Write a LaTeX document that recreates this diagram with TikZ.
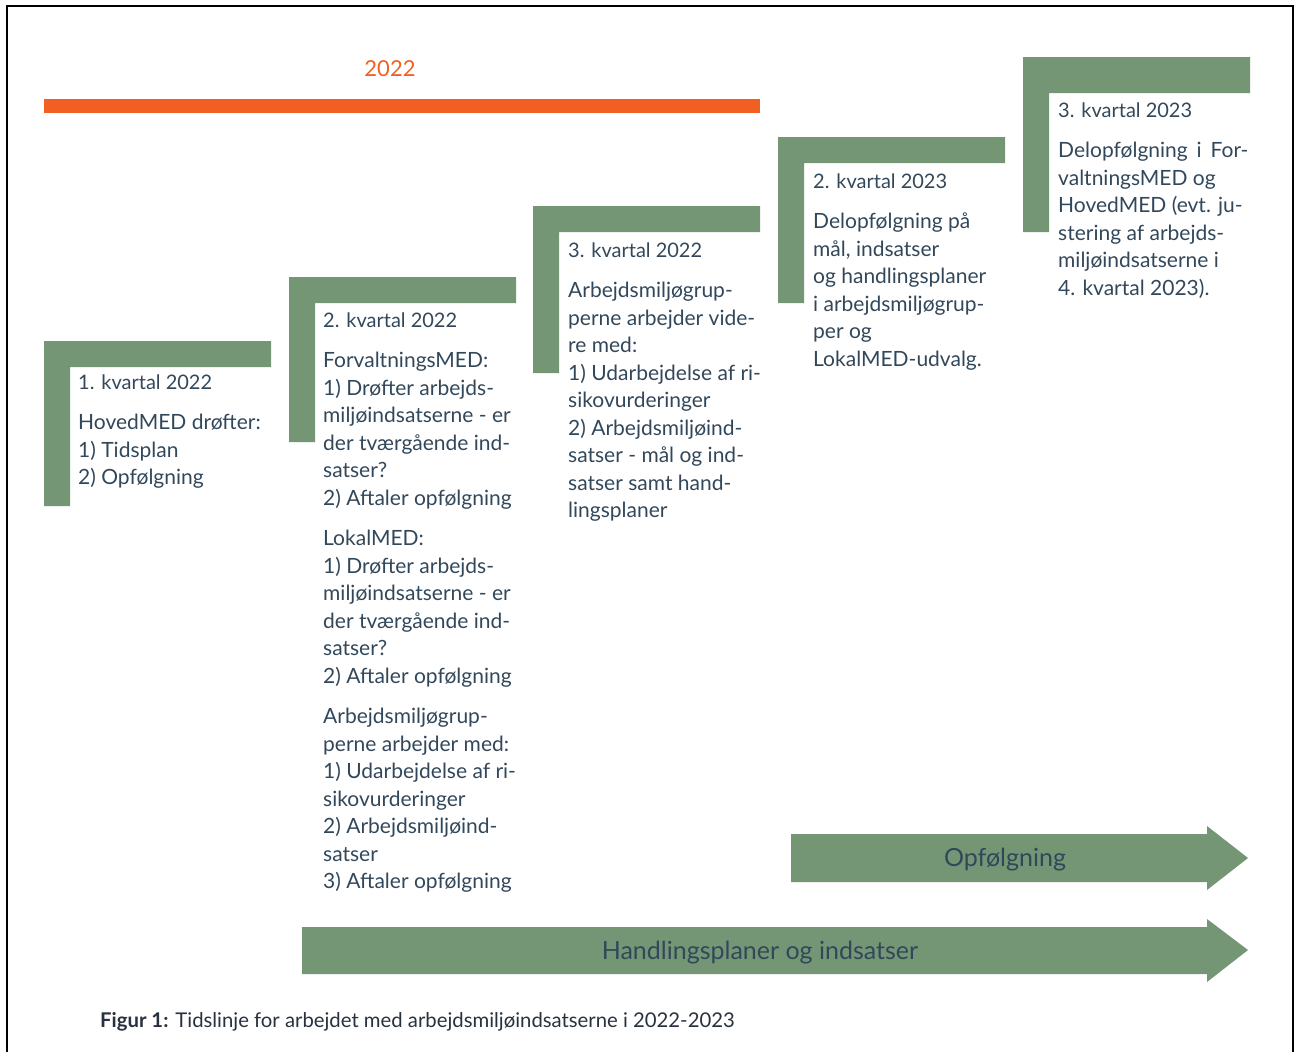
\documentclass[tikz,border=0pt]{standalone}
\usepackage{fontspec}
\setmainfont{Lato}
\definecolor{kvgreen}{RGB}{116,150,117}
\definecolor{kvorange}{RGB}{241,95,34}
\definecolor{kvtext}{RGB}{50,72,90}
\definecolor{kvcap}{RGB}{40,50,62}
\tikzset{
  hjoerne/.style={fill=kvgreen},
  overskrift/.style={anchor=base west, inner sep=0pt, text=kvtext, font=\fontsize{20}{27.5}\selectfont},
  broedtekst/.style={anchor=north west, inner sep=0pt, align=left, text=kvtext, font=\fontsize{21}{27.5}\selectfont},
  piltekst/.style={inner sep=0pt, text=kvtext, font=\fontsize{25}{29}\selectfont},
}
\begin{document}
\begin{tikzpicture}[x=1pt, y=-1pt, line join=miter]
	\useasboundingbox (0,0) rectangle (1295,1052);
	% ramme
	\draw[line width=2pt] (7,1052)--(7,6)--(1293,6)--(1293,1052);
	% 2022 og orange linje
	\node (aar) at (390,69) [text=kvorange, font=\fontsize{22}{26}\selectfont]{2022};
	\fill[kvorange] (44,99) rectangle (760,113);
	% hjoerner: x/y/tykkelse/hoejde
	\foreach \x/\y/\t/\h in {44/341/26/165, 289/277/26/165, 533/206/26/167, 778/137/26/166, 1023/57/36/175}
		\fill[hjoerne] (\x,\y) rectangle ++(227,\t) (\x,\y) rectangle ++(26,\h);
	% 1. kvartal 2022
	\node[overskrift] (k1) at (78,389) {1. kvartal 2022};
	\node[broedtekst] (t1) at (78,414) {HovedMED drøfter:\\1) Tidsplan\\2) Opfølgning};
	% 2. kvartal 2022
	\node[overskrift] (k2) at (323,327) {2. kvartal 2022};
	\node[broedtekst] (t2) at (323,352) {ForvaltningsMED:\\1) Drøfter arbejds-\\miljøindsatserne - er\\der tværgående ind-\\satser?\\2) Aftaler opfølgning\\[13pt]
		LokalMED:\\1) Drøfter arbejds-\\miljøindsatserne - er\\der tværgående ind-\\satser?\\2) Aftaler opfølgning\\[13pt]
		Arbejdsmiljøgrup-\\perne arbejder med:\\1) Udarbejdelse af ri-\\sikovurderinger\\2) Arbejdsmiljøind-\\satser\\3) Aftaler opfølgning};
	% 3. kvartal 2022
	\node[overskrift] (k3) at (568,257) {3. kvartal 2022};
	\node[broedtekst] (t3) at (568,282) {Arbejdsmiljøgrup-\\perne arbejder vide-\\re med:\\1) Udarbejdelse af ri-\\sikovurderinger\\2) Arbejdsmiljøind-\\satser - mål og ind-\\satser samt hand-\\lingsplaner};
	% 2. kvartal 2023
	\node[overskrift] (k4) at (813,188) {2. kvartal 2023};
	\node[broedtekst] (t4) at (813,213) {Delopfølgning på\\mål, indsatser\\og handlingsplaner\\i arbejdsmiljøgrup-\\per og\\LokalMED-udvalg.};
	% 3. kvartal 2023
	\node[overskrift] (k5) at (1058,117) {3. kvartal 2023};
	\node[broedtekst] (t5) at (1058,142) {Delopfølgning\ \,i\ \,For-\\valtningsMED og\\HovedMED (evt. ju-\\stering af arbejds-\\miljøindsatserne i\\4. kvartal 2023).};
	% pile
	\fill[kvgreen] (791,834)--(1207,834)--(1207,826)--(1248,858)--(1207,890)--(1207,882)--(791,882)--cycle;
	\node[piltekst] (opf) at (1005,860) {Opfølgning};
	\fill[kvgreen] (302,927)--(1207,927)--(1207,919)--(1248,950)--(1207,982)--(1207,974)--(302,974)--cycle;
	\node[piltekst] (hpl) at (760,953) {Handlingsplaner og indsatser};
	% figurtekst
	\node[anchor=base west, inner sep=0pt, text=kvcap, font=\fontsize{20.3}{24}\selectfont] (fig) at (100,1027) {\textbf{Figur 1:} Tidslinje for arbejdet med arbejdsmiljøindsatserne i 2022-2023};
\end{tikzpicture}
\end{document}
